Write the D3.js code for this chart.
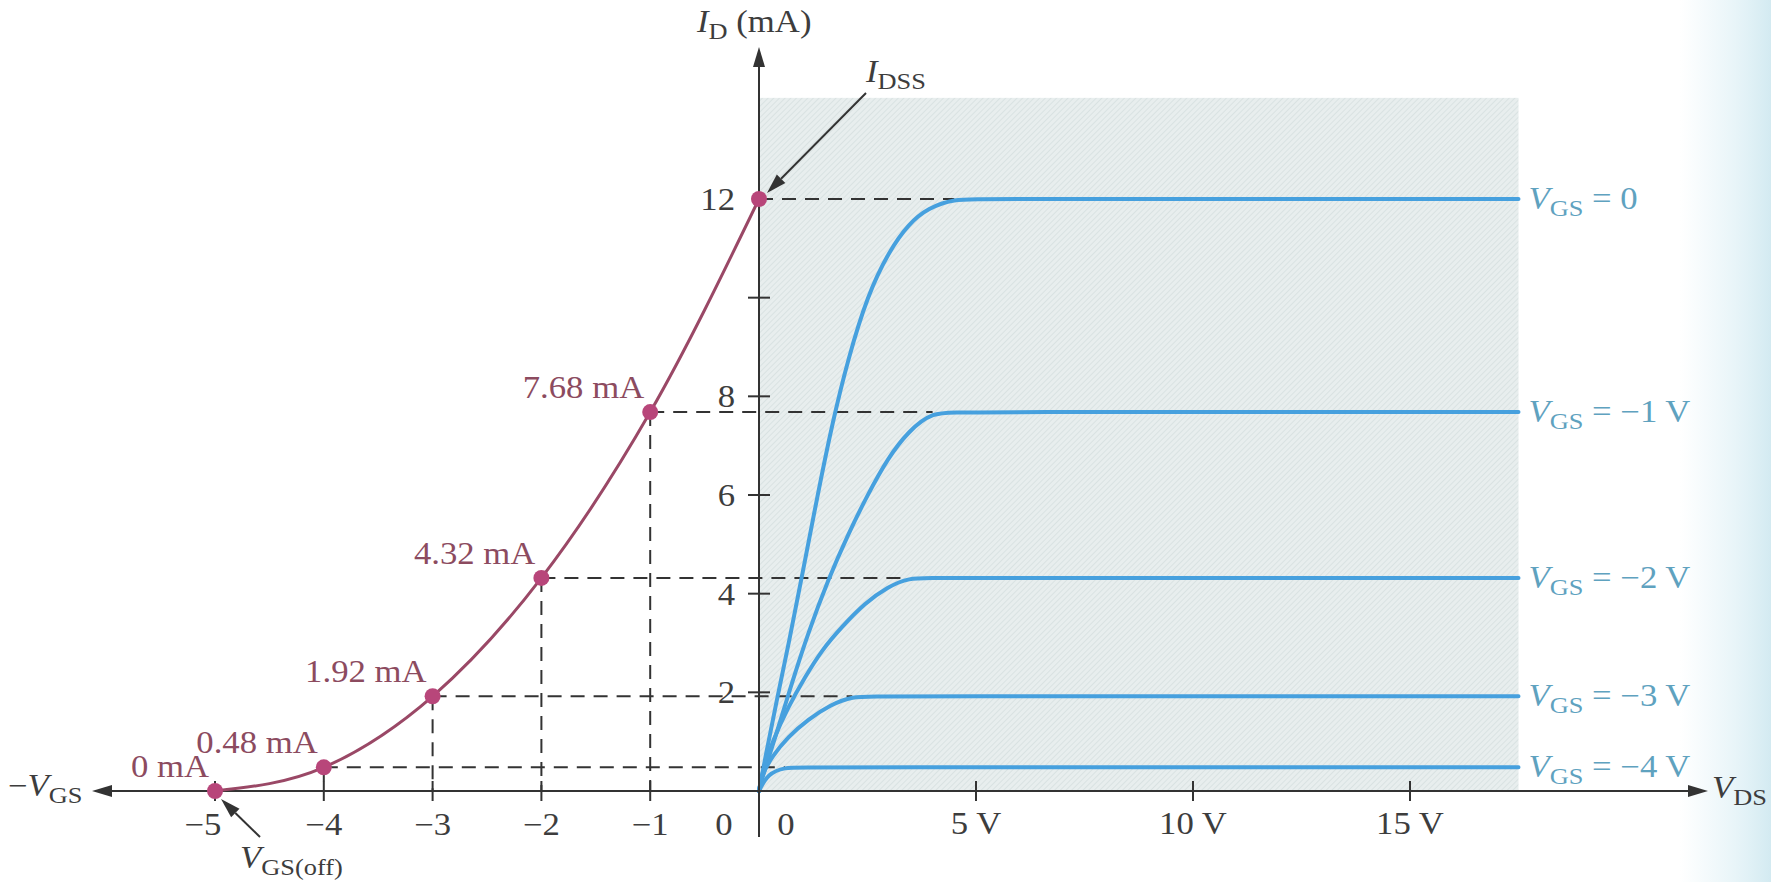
<!DOCTYPE html>
<html>
<head>
<meta charset="utf-8">
<script src="https://cdn.jsdelivr.net/npm/d3@7"></script>
<style>
  html, body { margin: 0; padding: 0; background: #fff; }
  svg { display: block; }
  text { font-family: "Liberation Serif", "Times New Roman", serif; font-size: 31px; }
</style>
</head>
<body>
<svg width="1771" height="882"></svg>
<script>
(function (d3) {

    'use strict'

    // curva de transferencia (VGS, ID)
    const vgsPoints = [-5, -4, -3, -2, -1, 0];
    const idPoints = [0, 0.48, 1.92, 4.32, 7.68, 12];
    const pointLabels = ['0 mA', '0.48 mA', '1.92 mA', '4.32 mA', '7.68 mA', ''];

    // marcas de los ejes
    const vgsTicks = [-5, -4, -3, -2, -1];
    const vdsTicks = [5, 10, 15];
    const vdsTickLabels = ['5 V', '10 V', '15 V'];
    const idTicks = [2, 4, 6, 8, 10];
    const idTickLabels = [2, 4, 6, 8, 12];

    // curvas de drenaje (VDS, ID)
    const vds0 = [0, 0.15, 0.4, 0.7, 1.0, 1.35, 1.7, 2.05, 2.5, 3.0, 3.45, 3.9, 4.5, 5.1, 17.5];
    const id0 = [0, 0.7, 1.8, 3.05, 4.4, 6.0, 7.5, 8.75, 10.05, 10.95, 11.5, 11.82, 12, 12, 12];
    const vds1 = [0, 0.1, 0.4, 0.76, 1.13, 1.6, 2.05, 2.5, 2.97, 3.45, 4.0, 4.6, 17.5];
    const id1 = [0, 0.35, 1.15, 2.2, 3.2, 4.3, 5.2, 6.0, 6.75, 7.3, 7.68, 7.68, 7.68];
    const vds2 = [0, 0.07, 0.32, 0.67, 1.06, 1.45, 1.91, 2.44, 2.97, 3.45, 4.0, 17.5];
    const id2 = [0, 0.37, 1.03, 1.7, 2.31, 2.86, 3.33, 3.81, 4.14, 4.32, 4.32, 4.32];
    const vds3 = [0, 0.05, 0.3, 0.67, 1.13, 1.65, 2.15, 2.7, 17.5];
    const id3 = [0, 0.3, 0.7, 1.1, 1.45, 1.75, 1.92, 1.92, 1.92];
    const vds4 = [0, 0.2, 0.6, 1.0, 17.5];
    const id4 = [0, 0.35, 0.48, 0.48, 0.48];
    const curveGates = [0, -1, -2, -3, -4];
    const curveLabels = ['= 0', '= \u22121 V', '= \u22122 V', '= \u22123 V', '= \u22124 V'];

    const svg = d3.select('svg');
    const vdsMax = 17.5;
    const idShade = 14.05;

    // escalas
    const xV = d3.scaleLinear().domain([-5, 0]).range([215, 759]);
    const xD = d3.scaleLinear().domain([0, 15]).range([759, 1410]);
    const y = d3.scaleLinear().domain([0, 12]).range([791, 199]);
    const x0 = xD(0), y0 = y(0);

    const curves = [[vds0, id0], [vds1, id1], [vds2, id2], [vds3, id3], [vds4, id4]]
        .map((c, i) => {
            const top = c[1][c[1].length - 1];
            return {
                gate: curveGates[i],
                label: curveLabels[i],
                level: top,
                pts: c[0].map((v, j) => [v, c[1][j]]),
                knee: c[0][c[1].indexOf(top)]
            };
        });

    const defs = svg.append('defs');
    const hatch = defs.append('pattern')
        .attr('id', 'trama').attr('patternUnits', 'userSpaceOnUse')
        .attr('width', 4).attr('height', 4)
        .attr('patternTransform', 'rotate(45)');
    hatch.append('rect').attr('width', 4).attr('height', 4).attr('fill', '#e8eeee');
    hatch.append('line').attr('x1', 0).attr('y1', 0).attr('x2', 0).attr('y2', 4)
        .attr('stroke', '#d5dfdf').attr('stroke-width', 1.5);

    const borde = defs.append('linearGradient').attr('id', 'borde')
        .attr('x1', '0%').attr('x2', '100%').attr('y1', '0%').attr('y2', '0%');
    borde.append('stop').attr('offset', '0%').attr('stop-color', '#dcf0f5').attr('stop-opacity', 0);
    borde.append('stop').attr('offset', '60%').attr('stop-color', '#d9eef4').attr('stop-opacity', 0.6);
    borde.append('stop').attr('offset', '100%').attr('stop-color', '#d3eaf1').attr('stop-opacity', 1);

    svg.append('rect').attr('x', 1680).attr('y', 0).attr('width', 91).attr('height', 882)
        .attr('fill', 'url(#borde)');

    // zona sombreada
    svg.append('rect')
        .attr('x', x0).attr('y', y(idShade))
        .attr('width', xD(vdsMax) - x0).attr('height', y0 - y(idShade))
        .attr('fill', 'url(#trama)');

    // texto con subíndices
    const label = (x, yy, anchor, parts, color) => {
        const t = svg.append('text')
            .attr('transform', `translate(${x},${yy}) scale(1.12,1)`)
            .attr('text-anchor', anchor)
            .attr('fill', color || '#3d3d3d');
        let low = false;
        parts.forEach(p => {
            const s = t.append('tspan').text(p.t);
            if (p.i) s.attr('font-style', 'italic');
            if (p.sub && !low) { s.attr('dy', 7); low = true; }
            else if (!p.sub && low) { s.attr('dy', -7); low = false; }
            if (p.sub) s.attr('font-size', '0.76em');
        });
        return t;
    };

    const arrow = (xa, ya, xb, yb) => {
        const ang = Math.atan2(yb - ya, xb - xa), len = 20, half = 6;
        const bx = xb - len * Math.cos(ang), by = yb - len * Math.sin(ang);
        svg.append('line').attr('x1', xa).attr('y1', ya).attr('x2', bx).attr('y2', by)
            .attr('stroke', '#333').attr('stroke-width', 2);
        svg.append('polygon')
            .attr('points', [[xb, yb],
                [bx + half * Math.sin(ang), by - half * Math.cos(ang)],
                [bx - half * Math.sin(ang), by + half * Math.cos(ang)]].join(' '))
            .attr('fill', '#333');
    };

    // líneas punteadas
    const dash = svg.append('g').attr('stroke', '#333').attr('stroke-width', 2)
        .attr('stroke-dasharray', '14,9').attr('fill', 'none');
    vgsPoints.forEach((v, i) => {
        const c = curves.find(k => k.gate === v);
        if (!c) return;
        dash.append('line').attr('x1', xV(v)).attr('x2', xD(c.knee))
            .attr('y1', y(idPoints[i])).attr('y2', y(idPoints[i]));
        if (v < 0) {
            dash.append('line').attr('x1', xV(v)).attr('x2', xV(v))
                .attr('y1', y(idPoints[i])).attr('y2', y0);
        }
    });

    // curvas de drenaje
    const lineaD = d3.line().x(d => xD(d[0])).y(d => y(d[1])).curve(d3.curveBasis);
    svg.append('g').selectAll('path').data(curves).enter().append('path')
        .attr('d', d => lineaD(d.pts))
        .attr('fill', 'none').attr('stroke', '#46a0de').attr('stroke-width', 4)
        .attr('stroke-linecap', 'round');

    curves.forEach(c => {
        label(xD(vdsMax) + 10, y(c.level) + 10, 'start',
            [{ t: 'V', i: true }, { t: 'GS', sub: true }, { t: ' ' + c.label }], '#5fa2bf');
    });

    // ejes
    const ejes = svg.append('g').attr('stroke', '#333').attr('stroke-width', 2);
    ejes.append('line').attr('x1', 110).attr('x2', 1690).attr('y1', y0).attr('y2', y0);
    ejes.append('line').attr('x1', x0).attr('x2', x0).attr('y1', 837).attr('y2', 65);
    arrow(1600, y0, 1708, y0);
    arrow(200, y0, 92, y0);
    arrow(x0, 140, x0, 47);

    vgsTicks.forEach(v => {
        ejes.append('line').attr('x1', xV(v)).attr('x2', xV(v)).attr('y1', y0 - 10).attr('y2', y0 + 10);
        label(xV(v) + (v === -5 ? -12 : 0), 835, 'middle', [{ t: '\u2212' + Math.abs(v) }]);
    });
    vdsTicks.forEach((v, i) => {
        ejes.append('line').attr('x1', xD(v)).attr('x2', xD(v)).attr('y1', y0 - 10).attr('y2', y0 + 10);
        label(xD(v), 834, 'middle', [{ t: vdsTickLabels[i] }]);
    });
    idTicks.forEach(v => {
        ejes.append('line').attr('x1', x0 - 11).attr('x2', x0 + 11).attr('y1', y(v)).attr('y2', y(v));
    });
    idTickLabels.forEach(v => label(x0 - 24, y(v) + 11, 'end', [{ t: String(v) }]));
    label(x0 - 35, 835, 'middle', [{ t: '0' }]);
    label(x0 + 27, 835, 'middle', [{ t: '0' }]);

    // curva de transferencia
    const lineaT = d3.line().x(d => xV(d[0])).y(d => y(d[1])).curve(d3.curveMonotoneX);
    svg.append('path')
        .attr('d', lineaT(vgsPoints.map((v, i) => [v, idPoints[i]])))
        .attr('fill', 'none').attr('stroke', '#9a4866').attr('stroke-width', 3);

    svg.append('g').selectAll('circle').data(vgsPoints).enter().append('circle')
        .attr('cx', d => xV(d)).attr('cy', (d, i) => y(idPoints[i]))
        .attr('r', 8).attr('fill', '#b8467a');

    vgsPoints.forEach((v, i) => {
        if (!pointLabels[i]) return;
        label(xV(v) - 6, y(idPoints[i]) - 14, 'end', [{ t: pointLabels[i] }], '#8c4b5f');
    });

    // títulos y anotaciones
    label(697, 32, 'start', [{ t: 'I', i: true }, { t: 'D', sub: true }, { t: ' (mA)' }]);
    label(866, 82, 'start', [{ t: 'I', i: true }, { t: 'DSS', sub: true }]);
    arrow(866, 93, x0 + 8, y(12) - 6);
    label(240, 868, 'start', [{ t: 'V', i: true }, { t: 'GS(off)', sub: true }]);
    arrow(260, 837, xV(-5) + 6, y0 + 8);
    label(8, 796, 'start', [{ t: '\u2212' }, { t: 'V', i: true }, { t: 'GS', sub: true }]);
    label(1712, 798, 'start', [{ t: 'V', i: true }, { t: 'DS', sub: true }]);

}(d3));
</script>
</body>
</html>
